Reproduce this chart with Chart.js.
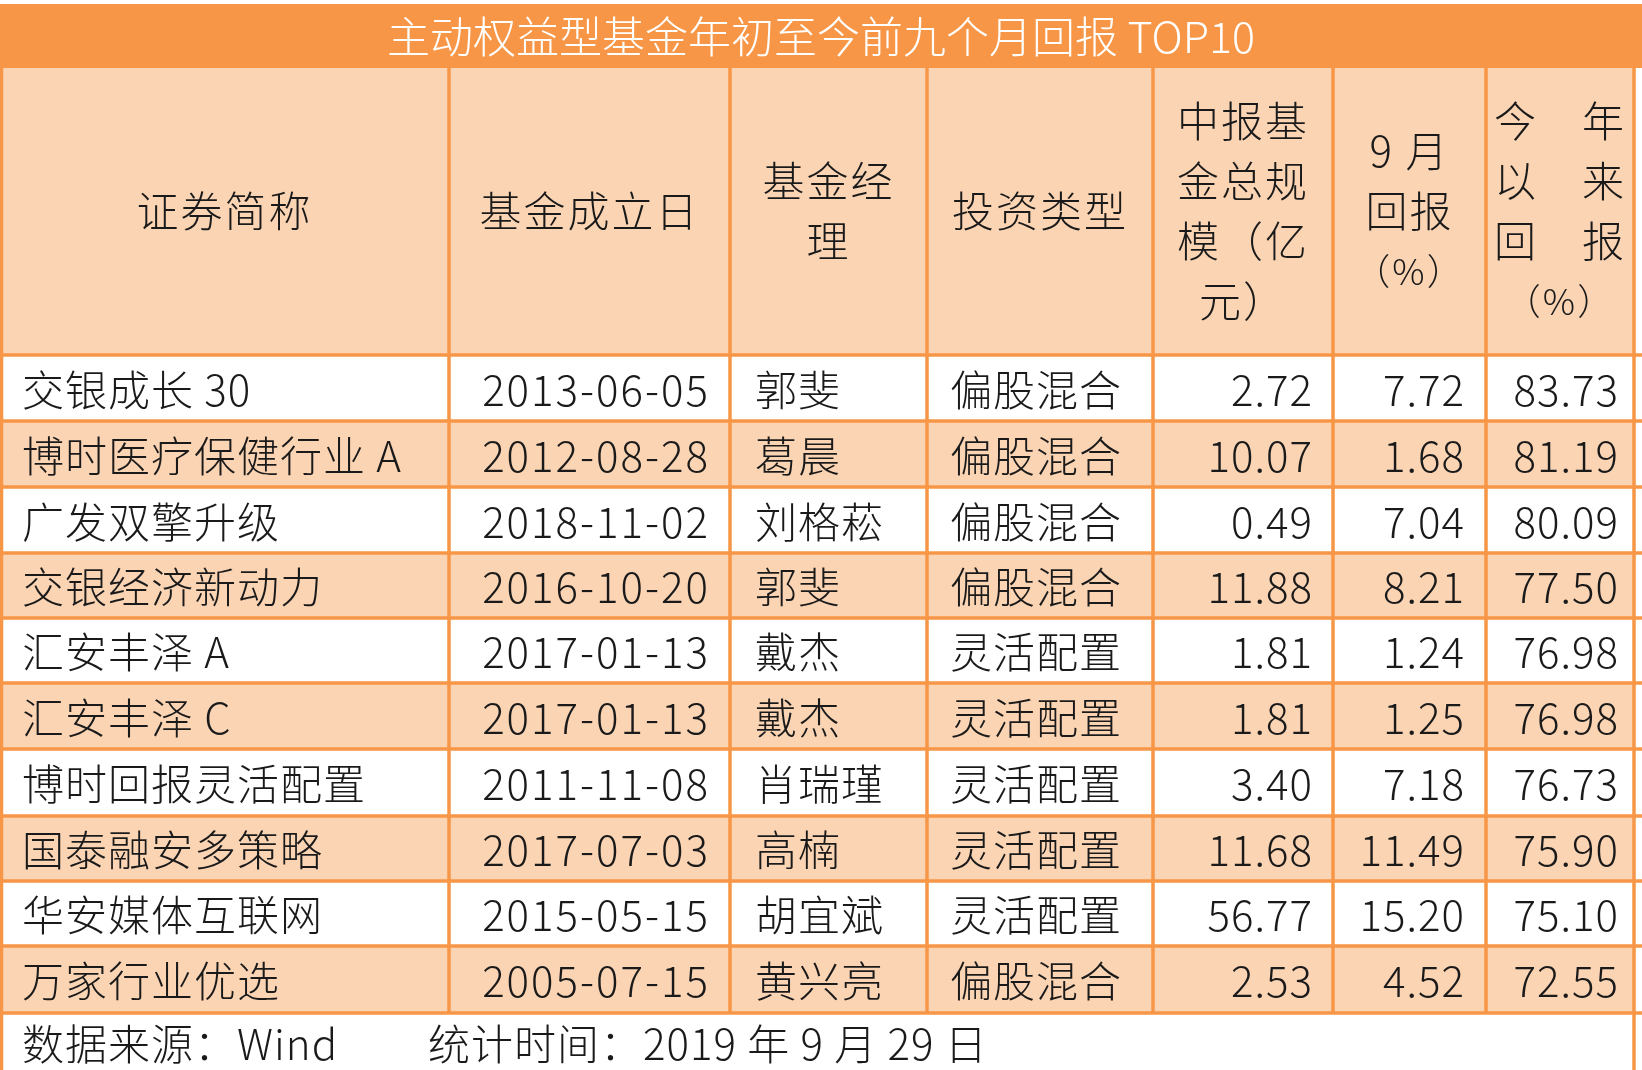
<!DOCTYPE html>
<html><head><meta charset="utf-8">
<script src="https://cdn.jsdelivr.net/npm/chart.js@4"></script>
<style>html,body{margin:0;padding:0;background:#fff}#w{width:1642px;height:1070px}</style>
</head><body><div id="w"><canvas id="c"></canvas></div>
<script>
const title = "主动权益型基金年初至今前九个月回报 TOP10";
const headers = [["证券简称"],["基金成立日"],["基金经","理"],["投资类型"],["中报基","金总规","模（亿","元）"],["9 月","回报","（%）"],["今　年","以　来","回　报","（%）"]];
const names = ["交银成长 30","博时医疗保健行业 A","广发双擎升级","交银经济新动力","汇安丰泽 A","汇安丰泽 C","博时回报灵活配置","国泰融安多策略","华安媒体互联网","万家行业优选"];
const dates = ["2013-06-05","2012-08-28","2018-11-02","2016-10-20","2017-01-13","2017-01-13","2011-11-08","2017-07-03","2015-05-15","2005-07-15"];
const managers = ["郭斐","葛晨","刘格菘","郭斐","戴杰","戴杰","肖瑞瑾","高楠","胡宜斌","黄兴亮"];
const types = ["偏股混合","偏股混合","偏股混合","偏股混合","灵活配置","灵活配置","灵活配置","灵活配置","灵活配置","偏股混合"];
const sizes = [2.72,10.07,0.49,11.88,1.81,1.81,3.40,11.68,56.77,2.53];
const sepReturn = [7.72,1.68,7.04,8.21,1.24,1.25,7.18,11.49,15.20,4.52];
const ytdReturn = [83.73,81.19,80.09,77.50,76.98,76.98,76.73,75.90,75.10,72.55];
const footer = ["数据来源：Wind","统计时间：2019 年 9 月 29 日"];

const colX = [0,449,730,927,1153,1333,1486,1634];
const rowY = [355,421,487,553,618,683,749,816,881,946,1013];
const ORANGE="#F79646", PEACH="#FBD4B4";
const FONT='"Noto Sans CJK SC","Noto Sans",sans-serif';

const tablePlugin = {
  id:'table',
  afterDraw(chart){
    const {ctx, scales:{x,y}} = chart;
    const X=v=>x.getPixelForValue(v), Y=v=>y.getPixelForValue(v);
    ctx.save();
    const rect=(x0,y0,x1,y1,c)=>{ctx.fillStyle=c;ctx.fillRect(X(x0),Y(y0),X(x1)-X(x0),Y(y1)-Y(y0));};
    rect(0,4,1642,68,ORANGE);
    ctx.fillStyle="#fff";ctx.font='300 43px '+FONT;ctx.textAlign='center';ctx.textBaseline='middle';
    ctx.fillText(title,X(821),Y(37));
    rect(0,68,1634,355,PEACH);
    for(let i=0;i<10;i++) rect(0,rowY[i],1634,rowY[i+1], i%2?PEACH:"#fff");
    ctx.strokeStyle=ORANGE;ctx.lineWidth=3.5;
    ctx.beginPath();
    colX.forEach((cx,i)=>{const xx=(i===0?1.5:cx);ctx.moveTo(X(xx),Y(68));ctx.lineTo(X(xx),Y(1013));});
    ctx.moveTo(X(1.5),Y(1013));ctx.lineTo(X(1.5),Y(1070));
    ctx.moveTo(X(1634),Y(1013));ctx.lineTo(X(1634),Y(1070));
    rowY.forEach(ry=>{ctx.moveTo(X(0),Y(ry));ctx.lineTo(X(1642),Y(ry));});
    ctx.stroke();
    ctx.fillStyle="#1a1a1a";ctx.textAlign='center';
    headers.forEach((h,i)=>{
      const cx=(colX[i]+colX[i+1])/2, lh=60, cy=211;
      const start=cy-(h.length-1)*lh/2;
      ctx.letterSpacing = "2px";
      h.forEach((t,k)=>{
        const isPct = t.indexOf('%')>=0;
        ctx.font='300 '+(isPct?'36px ':'42px ')+FONT;
        ctx.fillText(t,X(cx),Y(start+k*lh));
      });
    });
    ctx.font='300 42px '+FONT;
    for(let i=0;i<10;i++){
      const cy=(rowY[i]+rowY[i+1])/2+2;
      ctx.letterSpacing="1px";
      ctx.textAlign='left';
      ctx.fillText(names[i],X(22),Y(cy));
      ctx.fillText(managers[i],X(755),Y(cy));
      ctx.fillText(types[i],X(950),Y(cy));
      ctx.letterSpacing="2px";
      ctx.textAlign='center';
      ctx.fillText(dates[i],X(596),Y(cy));
      ctx.letterSpacing="1px";
      ctx.textAlign='right';
      ctx.fillText(sizes[i].toFixed(2),X(1313),Y(cy));
      ctx.fillText(sepReturn[i].toFixed(2),X(1465),Y(cy));
      ctx.fillText(ytdReturn[i].toFixed(2),X(1619),Y(cy));
    }
    ctx.textAlign='left';ctx.letterSpacing="1px";
    ctx.fillText(footer[0],X(22),Y(1044));
    ctx.fillText(footer[1],X(428),Y(1044));
    ctx.restore();
  }
};

new Chart(document.getElementById('c'),{
  type:'scatter',
  data:{datasets:[{data:[]}]},
  options:{
    responsive:true,maintainAspectRatio:false,animation:false,
    layout:{padding:0},
    plugins:{legend:{display:false},tooltip:{enabled:false}},
    scales:{
      x:{type:'linear',min:0,max:1642,display:false},
      y:{type:'linear',min:0,max:1070,reverse:true,display:false}
    }
  },
  plugins:[tablePlugin]
});
</script></body></html>
